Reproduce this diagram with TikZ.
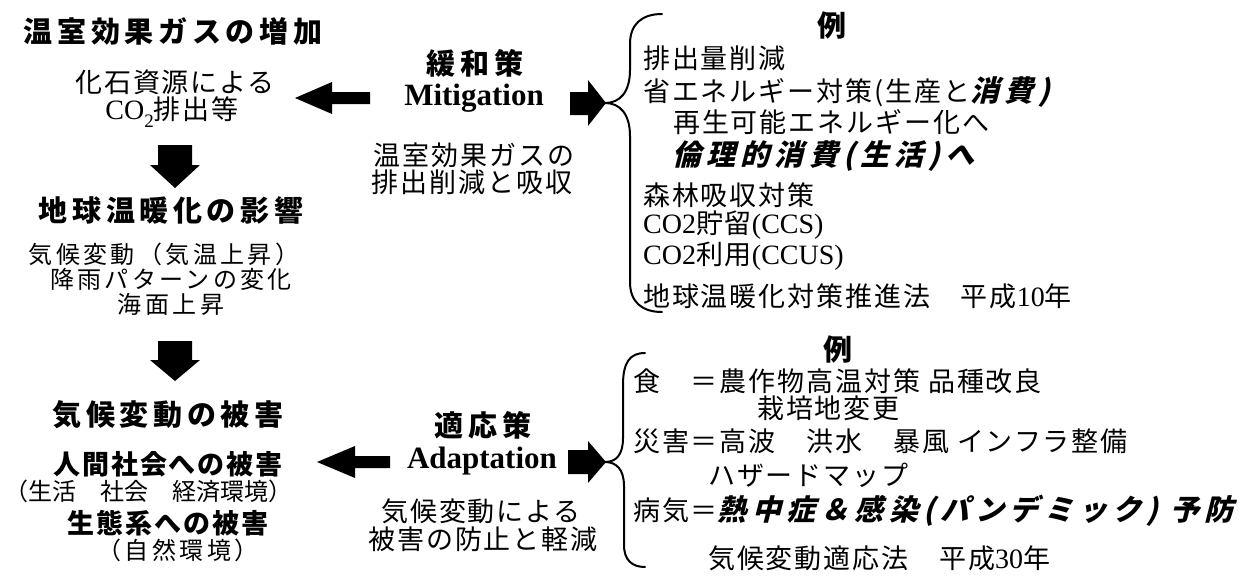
\documentclass[tikz,border=0pt]{standalone}
\usepackage{fontspec}
\setmainfont{Liberation Serif}
\newfontfamily\jp{Noto Sans CJK JP}[LetterSpace=7]
\newfontfamily\jpwide{Noto Sans CJK JP}[LetterSpace=14]
\newfontfamily\jptight{Noto Sans CJK JP}[LetterSpace=0]
\newfontfamily\jph{Noto Sans CJK JP}[LetterSpace=16]
\newfontfamily\jpsl{Noto Sans CJK JP}[LetterSpace=18,FakeSlant=0.25,BoldFeatures={FakeSlant=0.25}]
\newfontfamily\tnr{Liberation Serif}
\newcommand\emphbi[1]{{\jpsl\bfseries\fontsize{29}{32}\selectfont #1}}
\newcommand\lat[1]{{\tnr\fontsize{28}{30}\selectfont #1}}
\tikzset{
  body/.style={inner sep=0pt, font=\jp\fontsize{27}{30}\selectfont},
  smallbody/.style={inner sep=0pt, font=\jpwide\fontsize{24}{26}\selectfont},
  sub/.style={inner sep=0pt, font=\jp\bfseries\fontsize{27}{30}\selectfont},
  head/.style={inner sep=0pt, font=\jph\bfseries\fontsize{29}{32}\selectfont},
  latin/.style={inner sep=0pt, font=\tnr\bfseries\fontsize{31}{34}\selectfont},
  item/.style={body, anchor=west},
  blockarrow/.style={fill=black, draw=none},
  brace/.style={draw=black, line width=2pt, line cap=round, line join=round}
}
\begin{document}
\begin{tikzpicture}[x=1pt,y=-1pt]
\useasboundingbox[fill=white] (0,0) rectangle (1248,581);

% left column
\node[head] (h1) at (173,31) {温室効果ガスの増加};
\node[body] (t1) at (175,82) {化石資源による};
\node[body] (t2) at (172,112) {{\tnr\fontsize{28}{30}\selectfont CO\raisebox{-0.28em}{\fontsize{19}{19}\selectfont 2}}排出等};
\node[head] (h2) at (171,210) {地球温暖化の影響};
\node[smallbody] (t3) at (164,254) {気候変動（気温上昇）};
\node[smallbody] (t4) at (171,279) {降雨パターンの変化};
\node[smallbody] (t5) at (171,304) {海面上昇};
\node[head] (h3) at (168,415) {気候変動の被害};
\node[sub] (t6) at (168,464) {人間社会への被害};
\node[inner sep=0pt, font=\jptight\fontsize{24}{27}\selectfont] (t7) at (149,491) {（生活　社会　経済環境）};
\node[sub] (t8) at (168,523) {生態系への被害};
\node[smallbody] (t9) at (178,550) {（自然環境）};

\fill[blockarrow] (158,145) -- (192,145) -- (192,165) -- (200,165) -- (175,188) -- (150,165) -- (158,165) -- cycle;
\fill[blockarrow] (158,341) -- (192,341) -- (192,360) -- (200,360) -- (175,381) -- (150,360) -- (158,360) -- cycle;

% middle column
\node[head] (m1) at (475,63) {緩和策};
\node[latin] (m2) at (474,98) {Mitigation};
\node[body] (m3) at (474,155) {温室効果ガスの};
\node[body] (m4) at (472,182) {排出削減と吸収};
\node[head] (a1) at (483,425) {適応策};
\node[latin] (a2) at (482,461) {Adaptation};
\node[body] (a3) at (481,511) {気候変動による};
\node[body] (a4) at (483,539) {被害の防止と軽減};

\fill[blockarrow] (370,92) -- (370,104) -- (332,104) -- (332,114) -- (295,98) -- (332,82) -- (332,92) -- cycle;
\fill[blockarrow] (390,456) -- (390,468) -- (355,468) -- (355,478) -- (317,462) -- (355,446) -- (355,456) -- cycle;
\fill[blockarrow] (570,92) -- (588,92) -- (588,80) -- (606,103) -- (588,126) -- (588,115) -- (570,115) -- cycle;
\fill[blockarrow] (568,450) -- (588,450) -- (588,441) -- (606,462) -- (588,483) -- (588,474) -- (568,474) -- cycle;

% braces
\draw[brace] (662,14) .. controls (642,14) and (630,24) .. (630,44) -- (630,70)
  .. controls (630,92) and (620,103) .. (605,103)
  .. controls (620,103) and (630,114) .. (630,136) -- (630,282)
  .. controls (630,302) and (642,312) .. (662,312);
\draw[brace] (645,353) .. controls (630,353) and (623,362) .. (623,385) -- (623,438)
  .. controls (623,455) and (616,462) .. (605,462)
  .. controls (616,462) and (624,469) .. (624,486) -- (624,545)
  .. controls (624,560) and (632,567) .. (645,567);

% mitigation examples
\node[head] (r0) at (832,25) {例};
\node[item] (r1) at (643,58) {排出量削減};
\node[item] (r2) at (643,92) {省エネルギー対策(生産と\emphbi{消費)}};
\node[item] (r3) at (673,122) {再生可能エネルギー化へ};
\node[inner sep=0pt, anchor=west] (r4) at (672,156) {\emphbi{倫理的消費(生活)へ}};
\node[item] (r5) at (643,195) {森林吸収対策};
\node[item] (r6) at (643,225) {\lat{CO2}貯留\lat{(CCS)}};
\node[item] (r7) at (643,256) {\lat{CO2}利用\lat{(CCUS)}};
\node[item] (r8) at (643,296) {地球温暖化対策推進法　平成\lat{10}年};

% adaptation examples
\node[head] (s0) at (838,349) {例};
\node[item] (s1) at (633,381) {食　＝農作物高温対策 品種改良};
\node[item] (s2) at (757,408) {栽培地変更};
\node[item] (s3) at (633,441) {災害＝高波　洪水　暴風 インフラ整備};
\node[item] (s4) at (708,475) {ハザードマップ};
\node[item] (s5) at (633,511) {病気＝\emphbi{熱中症＆感染(パンデミック) 予防}};
\node[item] (s6) at (708,558) {気候変動適応法　平成\lat{30}年};
\end{tikzpicture}
\end{document}
